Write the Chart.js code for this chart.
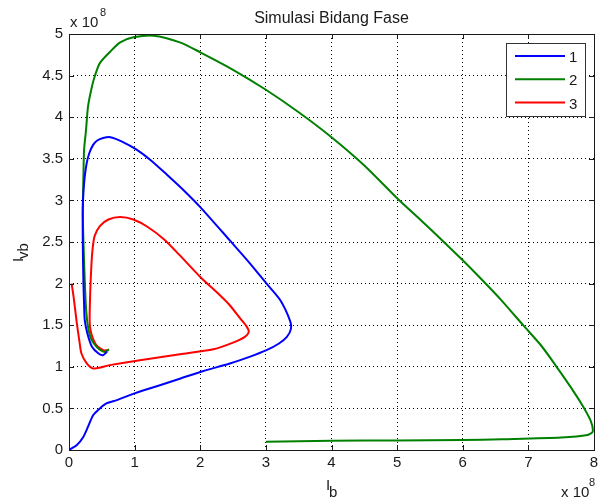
<!DOCTYPE html>
<html>
<head>
<meta charset="utf-8">
<title>Simulasi Bidang Fase</title>
<script src="https://cdn.jsdelivr.net/npm/chart.js@4"></script>
<style>
  html, body { margin: 0; padding: 0; background: #fff; }
  canvas { display: block; }
</style>
</head>
<body>
<canvas id="fase" width="598" height="502"></canvas>
<script>
// Phase-plane trajectories, Ib vs Ivb (both in units of 1e8)
const SERIES_LABELS = ['1', '2', '3'];
const SERIES_COLORS = ['#0000ff', '#008000', '#ff0000'];

const traj1Ib  = [0, 0.12, 0.22, 0.29, 0.37, 0.47, 0.57, 0.73, 1.0, 1.35, 1.7, 2.05, 2.45, 2.75, 3.01, 3.2, 3.32, 3.38, 3.37, 3.22, 3.01, 2.75, 2.45, 2.0, 1.75, 1.49, 1.25, 1.03, 0.8, 0.63, 0.52, 0.43, 0.37, 0.31, 0.27, 0.24, 0.22, 0.21, 0.21, 0.22, 0.23, 0.24, 0.28, 0.35, 0.45, 0.52, 0.58];
const traj1Ivb = [0, 0.06, 0.16, 0.28, 0.42, 0.50, 0.56, 0.60, 0.68, 0.77, 0.86, 0.95, 1.04, 1.12, 1.20, 1.28, 1.36, 1.45, 1.55, 1.80, 2.0, 2.25, 2.52, 2.92, 3.12, 3.31, 3.48, 3.61, 3.71, 3.76, 3.75, 3.72, 3.67, 3.57, 3.45, 3.29, 3.1, 2.9, 2.5, 2.0, 1.75, 1.56, 1.40, 1.24, 1.16, 1.14, 1.18];

const traj2Ib  = [3.0, 4.0, 5.0, 6.0, 6.6, 7.5, 7.9, 7.98, 7.95, 7.82, 7.65, 7.43, 7.2, 6.92, 6.6, 6.3, 6.0, 5.7, 5.35, 5.02, 4.5, 4.0, 3.5, 3.0, 2.5, 2.0, 1.69, 1.29, 0.98, 0.78, 0.63, 0.47, 0.40, 0.35, 0.29, 0.26, 0.23, 0.22, 0.21, 0.22, 0.24, 0.26, 0.29, 0.34, 0.42, 0.5, 0.55, 0.61];
const traj2Ivb = [0.10, 0.11, 0.115, 0.12, 0.13, 0.15, 0.18, 0.22, 0.35, 0.54, 0.75, 1.0, 1.25, 1.50, 1.79, 2.04, 2.28, 2.51, 2.77, 3.01, 3.42, 3.76, 4.06, 4.33, 4.57, 4.78, 4.90, 4.98, 4.96, 4.90, 4.79, 4.65, 4.51, 4.37, 4.13, 3.85, 3.61, 3.3, 2.88, 2.5, 2.04, 1.7, 1.48, 1.33, 1.24, 1.19, 1.18, 1.21];

const traj3Ib  = [0.04, 0.07, 0.12, 0.16, 0.19, 0.27, 0.37, 0.62, 1.08, 1.69, 2.2, 2.5, 2.68, 2.74, 2.71, 2.62, 2.45, 2.3, 2.0, 1.7, 1.45, 1.2, 0.98, 0.78, 0.6, 0.47, 0.39, 0.36, 0.34, 0.32, 0.32, 0.40, 0.52, 0.6];
const traj3Ivb = [2.0, 1.84, 1.52, 1.30, 1.16, 1.04, 0.98, 1.02, 1.08, 1.15, 1.21, 1.29, 1.36, 1.42, 1.48, 1.57, 1.74, 1.86, 2.08, 2.33, 2.53, 2.68, 2.77, 2.80, 2.77, 2.69, 2.57, 2.42, 2.20, 1.80, 1.48, 1.28, 1.20, 1.20];

const X_MIN = 0, X_MAX = 8, X_STEP = 1;
const Y_MIN = 0, Y_MAX = 5, Y_STEP = 0.5;
const TITLE = 'Simulasi Bidang Fase';

const FONT = '"Liberation Sans", Arial, sans-serif';
const INK = '#1a1a1a';

function toPoints(xs, ys) {
    return xs.map((x, i) => ({ x, y: ys[i] }));
}

const trajectories = [
    toPoints(traj1Ib, traj1Ivb),
    toPoints(traj2Ib, traj2Ivb),
    toPoints(traj3Ib, traj3Ivb),
];

// frame, inward ticks, legend and the MATLAB-style labels
const axesDecor = {
    id: 'axesDecor',
    afterDraw(chart) {
        const { ctx, chartArea: a, scales } = chart;
        ctx.save();

        ctx.strokeStyle = INK;
        ctx.lineWidth = 1;
        const tickLen = 5;
        ctx.beginPath();
        scales.x.ticks.forEach(t => {
            const px = Math.round(scales.x.getPixelForValue(t.value)) + 0.5;
            ctx.moveTo(px, a.bottom); ctx.lineTo(px, a.bottom - tickLen);
            ctx.moveTo(px, a.top); ctx.lineTo(px, a.top + tickLen);
        });
        scales.y.ticks.forEach(t => {
            const py = Math.round(scales.y.getPixelForValue(t.value)) + 0.5;
            ctx.moveTo(a.left, py); ctx.lineTo(a.left + tickLen, py);
            ctx.moveTo(a.right, py); ctx.lineTo(a.right - tickLen, py);
        });
        ctx.stroke();
        ctx.strokeRect(Math.round(a.left) + 0.5, Math.round(a.top) + 0.5,
            Math.round(a.right - a.left), Math.round(a.bottom - a.top));

        ctx.fillStyle = INK;
        ctx.textBaseline = 'alphabetic';

        // title
        ctx.font = '16px ' + FONT;
        ctx.textAlign = 'center';
        ctx.fillText(TITLE, (a.left + a.right) / 2, 23);

        // exponent labels
        ctx.textAlign = 'left';
        ctx.font = '15px ' + FONT;
        ctx.fillText('x 10', a.left + 1, 27);
        ctx.font = '11px ' + FONT;
        ctx.fillText('8', a.left + 31, 16);
        ctx.font = '15px ' + FONT;
        ctx.fillText('x 10', 561, 497);
        ctx.font = '11px ' + FONT;
        ctx.fillText('8', 589, 486);

        // axis names
        ctx.font = '15px ' + FONT;
        ctx.fillText('I', 326, 490);
        ctx.fillText('b', 329, 497);

        ctx.save();
        ctx.translate(23, 262);
        ctx.rotate(-Math.PI / 2);
        ctx.font = '15px ' + FONT;
        ctx.fillText('I', 0, 0);
        ctx.fillText('vb', 3, 5);
        ctx.restore();

        // legend
        const box = { x: 506.5, y: 43.5, w: 79, h: 73 };
        ctx.fillStyle = '#fff';
        ctx.fillRect(box.x, box.y, box.w, box.h);
        ctx.strokeStyle = '#333';
        ctx.strokeRect(box.x, box.y, box.w, box.h);
        chart.data.datasets.forEach((ds, i) => {
            const ly = 56 + i * 23.3;
            ctx.strokeStyle = ds.borderColor;
            ctx.lineWidth = 2;
            ctx.beginPath();
            ctx.moveTo(515, ly); ctx.lineTo(565, ly);
            ctx.stroke();
            ctx.fillStyle = INK;
            ctx.font = '15px ' + FONT;
            ctx.fillText(ds.label, 569, ly + 6);
        });

        ctx.restore();
    }
};

new Chart(document.getElementById('fase'), {
    type: 'scatter',
    data: {
        datasets: trajectories.map((pts, i) => ({
            label: SERIES_LABELS[i],
            data: pts,
            showLine: true,
            borderColor: SERIES_COLORS[i],
            backgroundColor: SERIES_COLORS[i],
            borderWidth: 2,
            pointRadius: 0,
            tension: 0.25,
        })),
    },
    options: {
        responsive: false,
        animation: false,
        devicePixelRatio: 1,
        layout: { padding: { top: 34, right: 4, left: 0, bottom: 0 } },
        plugins: {
            legend: { display: false },
            tooltip: { enabled: false },
        },
        scales: {
            x: {
                type: 'linear',
                min: X_MIN, max: X_MAX,
                afterFit: s => { s.height = 52; s.paddingLeft = 0; s.paddingRight = 0; },
                ticks: { stepSize: X_STEP, color: INK, padding: 4, font: { family: FONT, size: 15 },
                    callback: v => String(v) },
                grid: { color: '#000', lineWidth: 1, drawTicks: false },
                border: { display: false, dash: [1, 3] },
            },
            y: {
                type: 'linear',
                min: Y_MIN, max: Y_MAX,
                afterFit: s => { s.width = 69; s.paddingTop = 0; s.paddingBottom = 0; },
                ticks: { stepSize: Y_STEP, color: INK, padding: 6, font: { family: FONT, size: 15 },
                    callback: v => String(v) },
                grid: { color: '#000', lineWidth: 1, drawTicks: false },
                border: { display: false, dash: [1, 3] },
            },
        },
    },
    plugins: [axesDecor],
});
</script>
</body>
</html>
